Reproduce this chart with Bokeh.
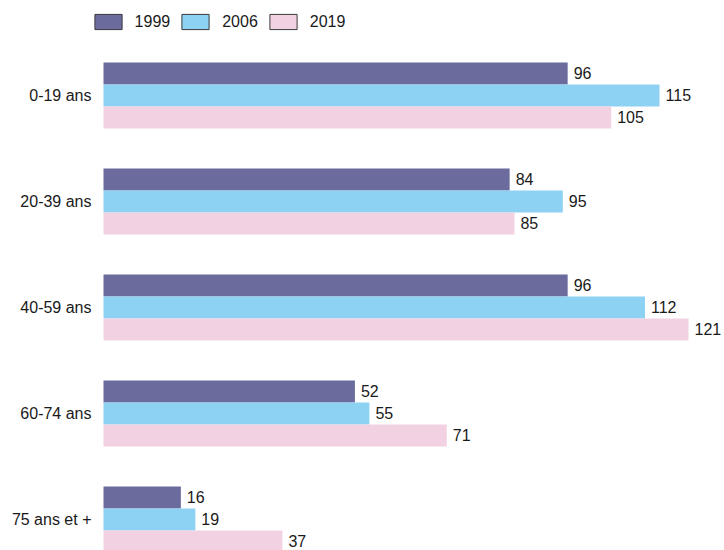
from bokeh.plotting import figure
from bokeh.models import ColumnDataSource, Range1d, FixedTicker, Legend, LegendItem
from bokeh.transform import dodge
from bokeh.core.properties import value
from bokeh.embed import file_html
from bokeh.resources import INLINE

categories = ["0-19 ans", "20-39 ans", "40-59 ans", "60-74 ans", "75 ans et +"]
years = ["1999", "2006", "2019"]
v1999 = [96, 84, 96, 52, 16]
v2006 = [115, 95, 112, 55, 19]
v2019 = [105, 85, 121, 71, 37]
colors = ["#6b6b9e", "#8ed2f3", "#f2d2e2"]

FONT = "Liberation Sans"
TXT = "#1a1a1a"
pos = list(range(len(categories)))
series = [v1999, v2006, v2019]
data = dict(pos=pos)
for y, vals in zip(years, series):
    data["v" + y] = vals
    data["t" + y] = [str(v) for v in vals]
src = ColumnDataSource(data)

p = figure(width=724, height=550, output_backend="svg", toolbar_location=None,
           x_range=Range1d(-2.689, 128.44), y_range=Range1d(4.2925, -0.896),
           min_border_left=90, min_border_right=0, min_border_top=0, min_border_bottom=0)

bh = 0.2075
offsets = [-bh, 0.0, bh]
legend_items = []
for y, c, off in zip(years, colors, offsets):
    p.hbar(y=dodge("pos", off, range=p.y_range), left=0, right="v" + y, height=bh,
           fill_color=c, line_color=None, source=src)
    p.text(x="v" + y, y=dodge("pos", off, range=p.y_range), text="t" + y, x_offset=6,
           text_baseline="middle", text_align="left", text_font=value(FONT),
           text_font_size=value("16px"), text_color=TXT, source=src)
    dummy = p.hbar(y=dodge("pos", off, range=p.y_range), left=0, right="v" + y, height=bh,
                   fill_color=c, line_color="#3a3a3a", line_width=1, source=src, visible=False)
    legend_items.append(LegendItem(label=y, renderers=[dummy]))

legend = Legend(items=legend_items, orientation="horizontal", location=(0.6, 519),
                glyph_width=34, glyph_height=19, label_standoff=10, spacing=8,
                padding=0, margin=0, border_line_color=None, background_fill_alpha=0,
                label_text_font_size="16px", label_text_font=FONT, label_text_color=TXT,
                click_policy="none")
p.add_layout(legend)

p.xaxis.visible = False
p.xgrid.visible = False
p.ygrid.visible = False
p.outline_line_color = None
p.yaxis.ticker = FixedTicker(ticks=pos)
p.yaxis.major_label_overrides = {i: c for i, c in zip(pos, categories)}
p.yaxis.axis_line_color = None
p.yaxis.major_tick_line_color = None
p.yaxis.minor_tick_line_color = None
p.yaxis.major_tick_in = 0
p.yaxis.major_tick_out = 0
p.yaxis.major_label_standoff = -1
p.yaxis.major_label_text_font = FONT
p.yaxis.major_label_text_font_size = "16px"
p.yaxis.major_label_text_color = TXT

open("out.html", "w").write(file_html(p, INLINE))
